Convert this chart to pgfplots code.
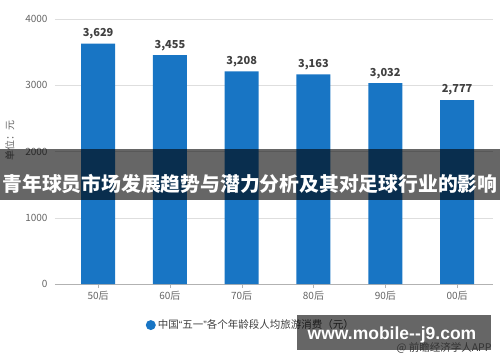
\documentclass[border=0pt]{standalone}
\usepackage{pgfplots}
\pgfplotsset{compat=1.18}
\usepackage{fontspec}
\setmainfont{Noto Sans CJK SC}
\newfontfamily\wmfont{Liberation Sans}
\definecolor{barblue}{RGB}{24,117,196}
\definecolor{ticktext}{RGB}{100,100,100}
\definecolor{valtext}{RGB}{64,64,64}
\begin{document}
\begin{tikzpicture}[x=1pt,y=1pt]
\path[use as bounding box] (0,0) rectangle (500,362);
\begin{axis}[
  at={(55pt,78pt)}, anchor=south west,
  scale only axis, width=438pt, height=265pt,
  xmin=-0.6, xmax=5.5, ymin=0, ymax=4000,
  ybar, bar width=34pt,
  xtick={0,1,2,3,4,5},
  xticklabels={50后,60后,70后,80后,90后,00后},
  ytick={0,1000,2000,3000,4000},
  /pgf/number format/assume math mode=true,
  /pgf/number format/1000 sep={},
  scaled y ticks=false,
  axis lines*=left,
  y axis line style={draw=none},
  x axis line style={draw=black!30},
  ytick style={draw=none},
  xtick style={draw=black!30},
  tick align=outside,
  major tick length=4pt,
  ymajorgrids,
  grid style={draw=black!13},
  ticklabel style={font=\fontsize{10}{12}\selectfont, text=ticktext},
  ylabel={单位：元},
  ylabel style={at={(axis description cs:-0.103,0.54)}, anchor=center, font=\fontsize{10}{12}\selectfont, text=ticktext},
  nodes near coords={\pgfmathprintnumber[assume math mode=true,1000 sep={,}]{\pgfplotspointmeta}},
  nodes near coords style={font=\bfseries\fontsize{11}{13}\selectfont, text=valtext, yshift=1pt},
  legend style={at={(0.447,-0.155)}, anchor=center, draw=none, fill=none,
    font=\fontsize{10.5}{12}\selectfont, text=valtext},
  legend cell align=left,
]
\addplot[fill=barblue, draw=none,
  legend image code/.code={\fill[barblue] (0.3cm,0) circle (5pt);}]
  coordinates {(0,3629) (1,3455) (2,3208) (3,3163) (4,3032) (5,2777)};
\addlegendentry{中国{\wmfont“}五一{\wmfont”}各个年龄段人均旅游消费（元）}
\end{axis}
\fill[black, opacity=0.6] (0,162) rectangle (500,213);
\node[text=white, font=\bfseries\fontsize{19.8}{22}\selectfont, inner sep=0] at (250,178) {青年球员市场发展趋势与潜力分析及其对足球行业的影响};
\fill[black, opacity=0.6] (297,12) rectangle (491,47);
\node[text=white, font=\wmfont\bfseries\fontsize{17.5}{20}\selectfont, inner sep=0] at (392,27) {www.mobile-\kern0pt-j9.com};
\node[text=black!80, font=\fontsize{10.5}{12}\selectfont, inner sep=0] at (444,14) {@ 前瞻经济学人APP};
\end{tikzpicture}
\end{document}
